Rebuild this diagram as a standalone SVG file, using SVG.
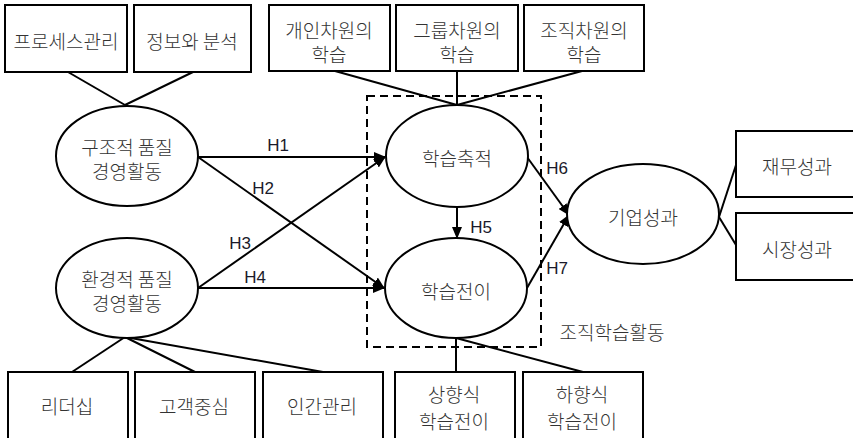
<svg xmlns="http://www.w3.org/2000/svg" width="853" height="438" viewBox="0 0 853 438">
<style>
.box{fill:#fff;stroke:#000;stroke-width:2}
.ell{fill:#fff;stroke:#000;stroke-width:2}
.ln{stroke:#000;stroke-width:2;fill:none}
.ar{stroke:#000;stroke-width:2;fill:none;marker-end:url(#ah)}
.t{font-family:"Noto Sans CJK KR","Noto Sans",sans-serif;font-size:19px;font-weight:300;fill:#333;text-anchor:middle;dominant-baseline:central}
.h{font-family:"Liberation Sans","DejaVu Sans",sans-serif;font-size:17px;fill:#1a1a2a;text-anchor:middle;dominant-baseline:central}
</style>
<defs>
<marker id="ah" markerWidth="12" markerHeight="10" refX="11" refY="5" orient="auto" markerUnits="userSpaceOnUse">
<path d="M0,0 L12,5 L0,10 Z" fill="#000"/>
</marker>
</defs>
<rect x="0" y="0" width="853" height="438" fill="#fff"/>
<g id="connectors">
<line class="ln" x1="68" y1="72" x2="125" y2="105"/>
<line class="ln" x1="193" y1="72" x2="125" y2="105"/>
<line class="ln" x1="335" y1="71" x2="457" y2="105"/>
<line class="ln" x1="457" y1="71" x2="457" y2="105"/>
<line class="ln" x1="582" y1="71" x2="457" y2="105"/>
<line class="ar" x1="198" y1="157" x2="385" y2="157"/>
<line class="ar" x1="198" y1="157" x2="384" y2="288"/>
<line class="ar" x1="198" y1="288" x2="385" y2="157"/>
<line class="ar" x1="198" y1="288" x2="384" y2="288"/>
<line class="ar" x1="457" y1="207" x2="457" y2="238"/>
<line class="ar" x1="527" y1="157" x2="569" y2="215"/>
<line class="ar" x1="527" y1="288" x2="569" y2="215"/>
<line class="ln" x1="719" y1="217" x2="736" y2="165"/>
<line class="ln" x1="719" y1="217" x2="736" y2="245"/>
<line class="ln" x1="125" y1="337" x2="72" y2="372"/>
<line class="ln" x1="125" y1="337" x2="195" y2="372"/>
<line class="ln" x1="125" y1="337" x2="323" y2="372"/>
<line class="ln" x1="456" y1="338" x2="456" y2="372"/>
<line class="ln" x1="456" y1="338" x2="583" y2="372"/>
<rect x="367" y="96" width="174" height="251" fill="none" stroke="#000" stroke-width="2" stroke-dasharray="8,5"/>
<text class="h" x="278" y="145">H1</text>
<text class="h" x="263" y="188">H2</text>
<text class="h" x="240" y="243">H3</text>
<text class="h" x="255" y="277">H4</text>
<text class="h" x="481" y="227">H5</text>
<text class="h" x="557" y="168">H6</text>
<text class="h" x="557" y="268">H7</text>
</g>
<g id="n-process"><rect class="box" x="5" y="5" width="122" height="67"/><text class="t" x="66" y="40">프로세스관리</text></g>
<g id="n-info"><rect class="box" x="134" y="5" width="117" height="67"/><text class="t" x="192" y="40">정보와 분석</text></g>
<g id="n-indiv"><rect class="box" x="269" y="5" width="121" height="66"/><text class="t" x="329" y="29">개인차원의<tspan x="329" dy="24">학습</tspan></text></g>
<g id="n-group"><rect class="box" x="396" y="5" width="122" height="66"/><text class="t" x="457" y="29">그룹차원의<tspan x="457" dy="24">학습</tspan></text></g>
<g id="n-org"><rect class="box" x="524" y="5" width="120" height="66"/><text class="t" x="584" y="29">조직차원의<tspan x="584" dy="24">학습</tspan></text></g>
<g id="n-struct"><ellipse class="ell" cx="127" cy="156" rx="71" ry="50"/><text class="t" x="127" y="146">구조적 품질<tspan x="127" dy="24">경영활동</tspan></text></g>
<g id="n-env"><ellipse class="ell" cx="127" cy="288" rx="71" ry="50"/><text class="t" x="127" y="278">환경적 품질<tspan x="127" dy="24">경영활동</tspan></text></g>
<g id="n-accum"><ellipse class="ell" cx="457" cy="156" rx="71" ry="51"/><text class="t" x="457" y="157">학습축적</text></g>
<g id="n-transfer"><ellipse class="ell" cx="456" cy="288" rx="71" ry="50"/><text class="t" x="456" y="290">학습전이</text></g>
<g id="n-perf"><ellipse class="ell" cx="643" cy="214" rx="76" ry="50"/><text class="t" x="643" y="216">기업성과</text></g>
<g id="n-fin"><rect class="box" x="736" y="131" width="124" height="66"/><text class="t" x="797" y="165">재무성과</text></g>
<g id="n-market"><rect class="box" x="736" y="213" width="124" height="67"/><text class="t" x="797" y="248">시장성과</text></g>
<g id="n-leader"><rect class="box" x="8" y="372" width="120" height="75"/><text class="t" x="67" y="405">리더십</text></g>
<g id="n-customer"><rect class="box" x="135" y="372" width="120" height="75"/><text class="t" x="194" y="405">고객중심</text></g>
<g id="n-human"><rect class="box" x="263" y="372" width="120" height="75"/><text class="t" x="322" y="405">인간관리</text></g>
<g id="n-up"><rect class="box" x="395" y="372" width="120" height="75"/><text class="t" x="454" y="393">상향식<tspan x="454" dy="27">학습전이</tspan></text></g>
<g id="n-down"><rect class="box" x="523" y="372" width="120" height="75"/><text class="t" x="582" y="393">하향식<tspan x="582" dy="27">학습전이</tspan></text></g>
<g id="label-org"><text class="t" x="612" y="331">조직학습활동</text></g>
</svg>
